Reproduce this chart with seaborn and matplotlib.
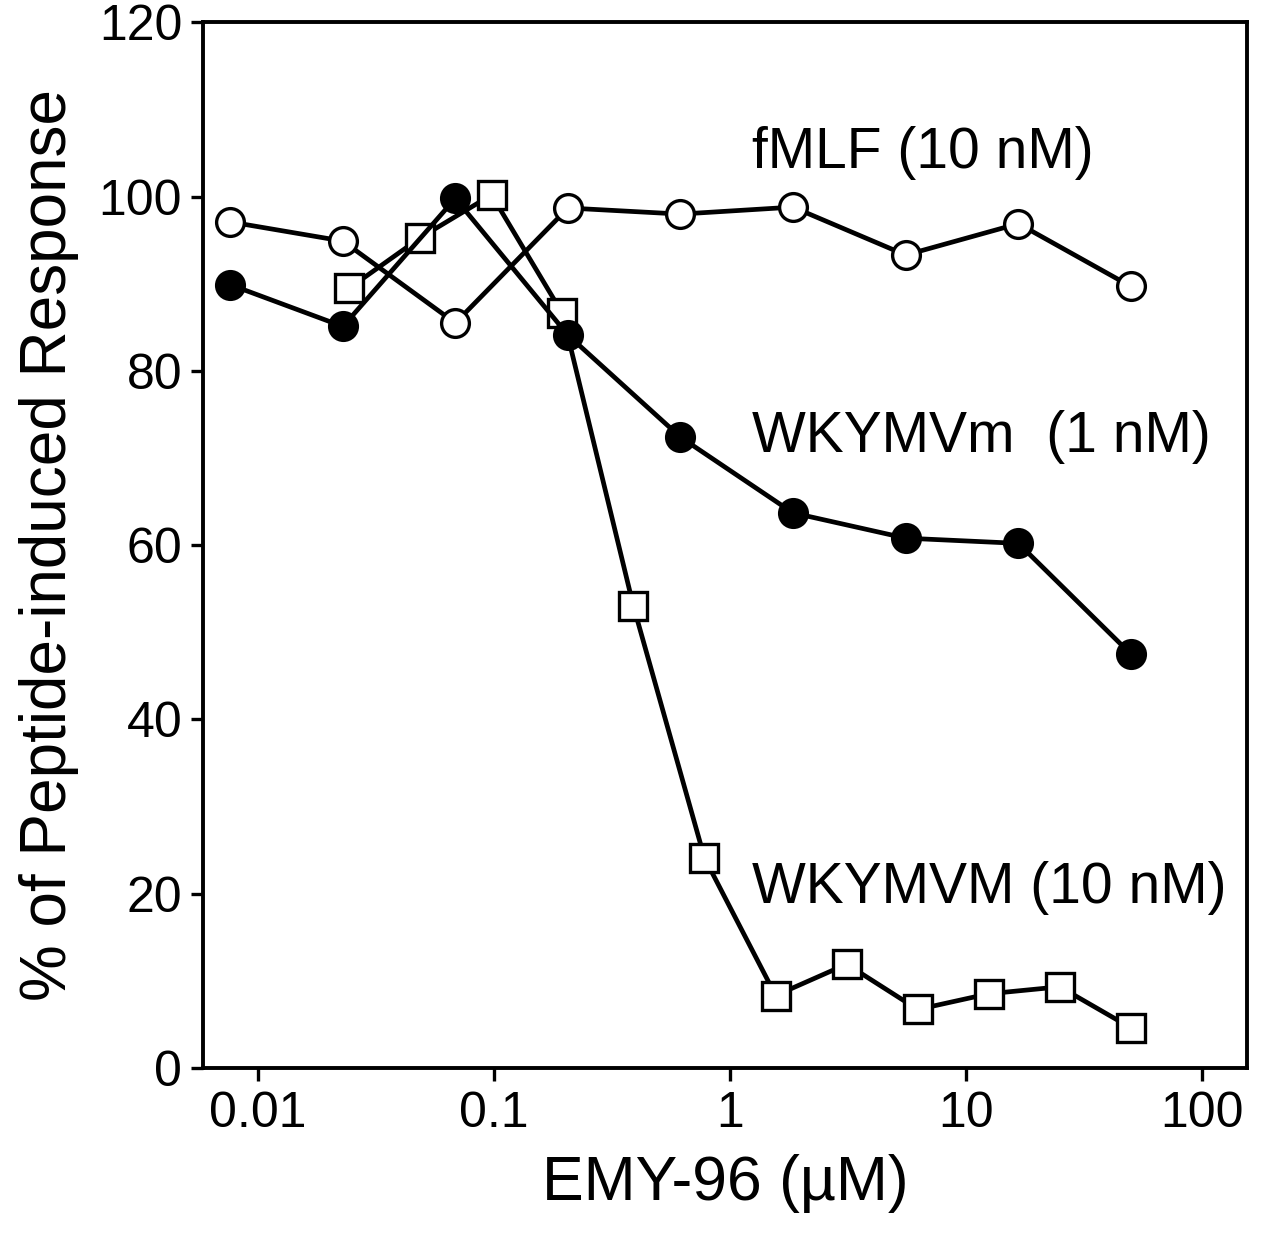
import matplotlib

matplotlib.use("Agg")
import matplotlib.pyplot as plt
import matplotlib.ticker as mticker
import numpy as np
import pandas as pd
import seaborn as sns

# EMY-96 concentrations (uM)
conc_3fold = [0.00762, 0.0229, 0.0686, 0.206, 0.617, 1.85, 5.56, 16.7, 50.0]
conc_2fold = [0.0244, 0.0488, 0.0977, 0.195, 0.39, 0.78, 1.5625, 3.125, 6.25, 12.5, 25.0, 50.0]

fmlf = [97.1, 94.9, 85.5, 98.7, 98.0, 98.8, 93.3, 96.9, 89.7]
wkymvm_d = [89.9, 85.1, 99.8, 84.1, 72.4, 63.7, 60.8, 60.2, 47.5]
wkymvm_l = [89.5, 95.3, 100.2, 86.6, 53.0, 24.1, 8.3, 11.9, 6.7, 8.5, 9.3, 4.6]

labels = ["fMLF (10 nM)", "WKYMVm  (1 nM)", "WKYMVM (10 nM)"]
label_y = [105, 72.4, 20.6]

sns.set_theme(style="white")
plt.rcParams["font.family"] = ["Liberation Sans", "DejaVu Sans"]

fig = plt.figure(figsize=(12.69, 12.46), dpi=100)
ax = fig.add_axes([0.160, 0.143, 0.823, 0.839])

line_kw = dict(color="black", linewidth=3.4, markersize=20, markeredgewidth=2.4,
               markeredgecolor="black")

df_sq = pd.DataFrame({"x": conc_2fold, "y": wkymvm_l})
sns.lineplot(data=df_sq, x="x", y="y", marker="s", markerfacecolor="white", ax=ax, **line_kw)
df_d = pd.DataFrame({"x": conc_3fold, "y": wkymvm_d})
sns.lineplot(data=df_d, x="x", y="y", marker="o", markerfacecolor="black", ax=ax, **line_kw)
df_o = pd.DataFrame({"x": conc_3fold, "y": fmlf})
sns.lineplot(data=df_o, x="x", y="y", marker="o", markerfacecolor="white", ax=ax, **line_kw)

ax.set_xscale("log")
ax.set_xlim(0.00585, 156)
ax.set_ylim(0, 120)
ax.set_xticks([0.01, 0.1, 1, 10, 100])
ax.xaxis.set_major_formatter(mticker.FixedFormatter(["0.01", "0.1", "1", "10", "100"]))
ax.xaxis.set_minor_locator(mticker.NullLocator())
ax.set_yticks([0, 20, 40, 60, 80, 100, 120])

for s in ax.spines.values():
    s.set_linewidth(2.8)
    s.set_color("black")

ax.tick_params(axis="both", which="major", direction="out", length=9, width=2.4,
               labelsize=36, colors="black", bottom=True, left=True, top=False, right=False)
ax.tick_params(axis="x", pad=8)
ax.tick_params(axis="y", pad=6)

ax.set_xlabel("EMY-96 (\u00b5M)", fontsize=45, labelpad=12, color="black")
ax.set_ylabel("% of Peptide-induced Response", fontsize=46, labelpad=14, color="black")

for lab, ly in zip(labels, label_y):
    ax.text(1.24, ly, lab, fontsize=41, ha="left", va="center", color="black")

fig.savefig("out.png", dpi=100, facecolor="white")
